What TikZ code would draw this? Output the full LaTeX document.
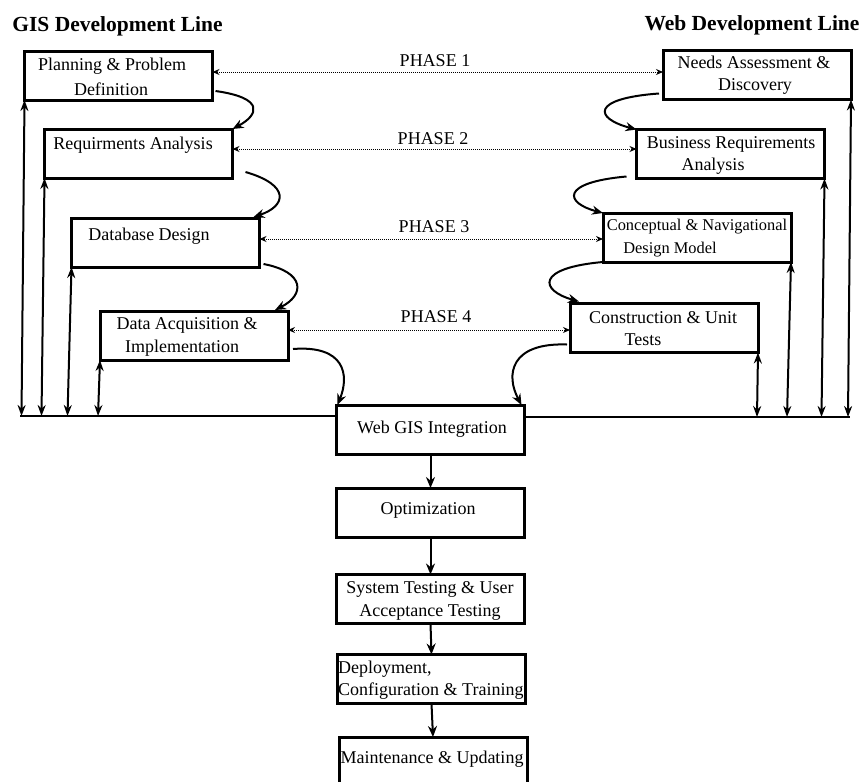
\documentclass[tikz,border=0pt]{standalone}
\usepackage{fontspec}
\setmainfont{Liberation Serif}
\usetikzlibrary{arrows.meta,calc}
\begin{document}
\begin{tikzpicture}[x=1pt,y=-1pt,
  box/.style={draw,line width=3pt,minimum width=188pt,minimum height=49pt,inner sep=0pt,outer sep=0pt},
  txt/.style={inner sep=0pt,anchor=base,font=\fontsize{18}{22}\selectfont},
  txtl/.style={txt,anchor=base west},
  smalltxt/.style={txt,font=\fontsize{16.4}{20}\selectfont},
  title/.style={inner sep=0pt,anchor=base,font=\fontsize{21.5}{25}\selectfont\bfseries},
  flow/.style={line width=2pt,-{Stealth[length=11pt,width=9pt]}},
  updown/.style={line width=2pt,{Stealth[length=11pt,width=8pt]}-{Stealth[length=11pt,width=8pt]}},
  phaseline/.style={line width=1pt,dash pattern=on 1pt off 1pt,{Stealth[length=7pt,width=6pt]}-{Stealth[length=7pt,width=6pt]}},
  baseln/.style={line width=2pt},
  down/.style={line width=2pt,-{Stealth[length=11pt,width=9pt]}}
]
\useasboundingbox (0,0) rectangle (863,782);

% titles
\node[title] (tgis) at (117.5,31) {GIS Development Line};
\node[title] (tweb) at (752,30) {Web Development Line};

% GIS boxes
\node[box] (b1) at (118.5,75.5) {};
\node[box] (b2) at (138.5,153.5) {};
\node[box] (b3) at (165.5,242.5) {};
\node[box] (b4) at (194,335.5) {};
% Web boxes
\node[box] (b5) at (757,75) {};
\node[box] (b6) at (730.5,154) {};
\node[box] (b7) at (697,237.5) {};
\node[box] (b8) at (664,328) {};
% central boxes
\node[box] (c1) at (430.5,429.5) {};
\node[box] (c2) at (430.5,512.5) {};
\node[box] (c3) at (430.5,599) {};
\node[box] (c4) at (431.5,679) {};
\node[box] (c5) at (433,761.5) {};

% texts
\node[txt] (t1a) at (112,70) {Planning \& Problem};
\node[txt] (t1b) at (111,95) {Definition};
\node[txt] (t2) at (133,149) {Requirments Analysis};
\node[txt] (t3) at (149,240) {Database Design};
\node[txt] (t4a) at (187,329) {Data Acquisition \&};
\node[txt] (t4b) at (182,352) {Implementation};
\node[txt] (t5a) at (754,68) {Needs Assessment \&};
\node[txt] (t5b) at (755,90) {Discovery};
\node[txt] (t6a) at (731,148) {Business Requirements};
\node[txt] (t6b) at (713,170) {Analysis};
\node[smalltxt] (t7a) at (697,230) {Conceptual \& Navigational};
\node[smalltxt] (t7b) at (670,253) {Design Model};
\node[txt] (t8a) at (663,323) {Construction \& Unit};
\node[txt] (t8b) at (643,345) {Tests};
\node[txt] (tc1) at (432,433) {Web GIS Integration};
\node[txt] (tc2) at (428,514) {Optimization};
\node[txt] (tc3a) at (430,593) {System Testing \& User};
\node[txt] (tc3b) at (430,616) {Acceptance Testing};
\node[txtl] (tc4a) at (338,673) {Deployment,};
\node[txtl] (tc4b) at (338,695) {Configuration \& Training};
\node[txt] (tc5) at (432,763) {Maintenance \& Updating};

% phase links
\draw[phaseline] ([yshift=3.5pt]b1.east) -- ([yshift=3.5pt]b1.east -| b5.west);
\draw[phaseline] ([yshift=4.5pt]b2.east) -- ([yshift=4.5pt]b2.east -| b6.west);
\draw[phaseline] ([yshift=3.5pt]b3.east) -- ([yshift=3.5pt]b3.east -| b7.west);
\draw[phaseline] ([yshift=5.5pt]b4.east) -- ([yshift=5.5pt]b4.east -| b8.west);
\node[txt] (p1) at (435,66) {PHASE 1};
\node[txt] (p2) at (433,144) {PHASE 2};
\node[txt] (p3) at (434,232) {PHASE 3};
\node[txt] (p4) at (436,322) {PHASE 4};

% GIS flow curves
\draw[flow] ($(b1.south east)+(3,-9)$) .. controls +(50,7) and +(26,-14) .. (b2.north east);
\draw[flow] ($(b2.south east)+(13,-6)$) .. controls +(45,13) and +(33,-11) .. ($(b3.north east)+(-6,-1)$);
\draw[flow] ($(b3.south east)+(4,-3)$) .. controls +(42,8) and +(30,-15) .. ($(b4.north east)+(-13,-1)$);
\draw[flow] ($(b4.south east)+(5,-11)$) .. controls +(52,-4) and +(12,-30) .. ($(c1.north west)+(1,0)$);
% Web flow curves
\draw[flow] ($(b5.south west)+(-4,-6)$) .. controls +(-69,5) and +(-42,-11) .. (b6.north west);
\draw[flow] ($(b6.south west)+(-10,-2)$) .. controls +(-67,6) and +(-38,-10) .. (b7.north west);
\draw[flow] (b7.south west) .. controls +(-68,6) and +(-39,-11) .. ($(b8.north west)+(9,-2)$);
\draw[flow] ($(b8.south west)+(-3,-8)$) .. controls +(-57,-2) and +(-16,-30) .. ($(c1.north east)+(-3,0)$);

% base line
\coordinate (L0) at (20,416);
\coordinate (R0) at (850,417);
\draw[baseln] (L0) -- (L0 -| c1.west);
\draw[baseln] (R0 -| c1.east) -- (R0);

% feedback arrows
\draw[updown] (b1.south west) -- ($(b1.south west |- L0)+(-3,0)$);
\draw[updown] (b2.south west) -- ($(b2.south west |- L0)+(-3,0)$);
\draw[updown] (b3.south west) -- ($(b3.south west |- L0)+(-4,0)$);
\draw[updown] (b4.south west) -- ($(b4.south west |- L0)+(-2,0)$);
\draw[updown] (b5.south east) -- ($(b5.south east |- R0)+(-3,0)$);
\draw[updown] (b6.south east) -- ($(b6.south east |- R0)+(-3,0)$);
\draw[updown] (b7.south east) -- ($(b7.south east |- R0)+(-4,0)$);
\draw[updown] (b8.south east) -- ($(b8.south east |- R0)+(-1,0)$);

% central flow
\draw[down] (c1.south) -- (c2.north);
\draw[down] (c2.south) -- (c3.north);
\draw[down] (c3.south) -- (c4.north);
\draw[down] (c4.south) -- (c5.north);
\end{tikzpicture}
\end{document}
